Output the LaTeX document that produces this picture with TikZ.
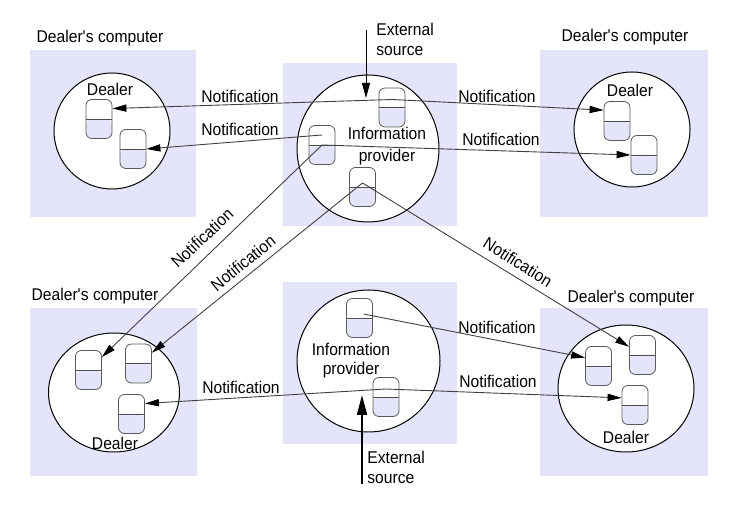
\documentclass[tikz,border=0pt]{standalone}
\usepackage{fontspec}
\setmainfont{Liberation Sans}[FakeStretch=0.92]
\usetikzlibrary{shapes.geometric,arrows.meta,positioning}
\definecolor{lav}{RGB}{228,228,250}
\tikzset{
  host/.style={rectangle,fill=lav,inner sep=0pt},
  proc/.style={ellipse,draw,fill=white,line width=0.5pt,inner sep=0pt},
  obj/.style={rectangle,rounded corners=3pt,draw=black!65,line width=0.4pt,
    minimum width=13pt,minimum height=19.5pt,inner sep=0pt,
    path picture={\fill[lav] (path picture bounding box.west) rectangle (path picture bounding box.south east);
      \draw[black!70] (path picture bounding box.west) -- (path picture bounding box.east);}},
  lbl/.style={inner sep=0pt,font=\fontsize{8.5}{10}\selectfont},
  notif/.style={draw=black!75,line width=0.45pt,-{Triangle[length=7pt,width=3.6pt,black]}}
}
\begin{document}
\begin{tikzpicture}[x=0.5pt,y=-0.5pt]
  \useasboundingbox (0,0) rectangle (744,522);
  % computers
  \begin{scope}[every node/.style={host}]
    \node[minimum width=83pt,minimum height=83.5pt] (hTL) at (113,133.5) {};
    \node[minimum width=87pt,minimum height=81.5pt] (hTM) at (370,144.5) {};
    \node[minimum width=84pt,minimum height=83.5pt] (hTR) at (624,133.5) {};
    \node[minimum width=83.5pt,minimum height=84pt] (hBL) at (113.5,392) {};
    \node[minimum width=87pt,minimum height=81pt] (hBM) at (370,363) {};
    \node[minimum width=84pt,minimum height=84pt] (hBR) at (624,392) {};
  \end{scope}
  % processes
  \begin{scope}[every node/.style={proc}]
    \node[minimum width=58pt,minimum height=58pt] (cTL) at (112,131) {};
    \node[minimum width=71pt,minimum height=73.5pt] (cTM) at (368,148.5) {};
    \node[minimum width=58pt,minimum height=57.5pt] (cTR) at (632,129.5) {};
    \node[minimum width=65.5pt,minimum height=59.5pt] (cBL) at (114,392.5) {};
    \node[minimum width=71.5pt,minimum height=71pt] (cBM) at (368.5,361) {};
    \node[minimum width=68pt,minimum height=63.5pt] (cBR) at (626,388.5) {};
  \end{scope}
  % objects
  \begin{scope}[every node/.style={obj}]
    \node (d1a) at (99,119) {};
    \node (d1b) at (133,149) {};
    \node (d2a) at (617,121) {};
    \node (d2b) at (644,155) {};
    \node (pA) at (392,107.5) {};
    \node (pB) at (322,145) {};
    \node (pC) at (362.5,187) {};
    \node (d3a) at (88.5,370) {};
    \node (d3b) at (138.5,363.5) {};
    \node (d3c) at (131.5,414) {};
    \node (d4a) at (598.5,366) {};
    \node (d4b) at (642.5,355) {};
    \node (d4c) at (635,405) {};
    \node (qA) at (359.5,318) {};
    \node (qB) at (386,397) {};
  \end{scope}
  % texts
  \node[lbl] (tTL) at (100,38) {Dealer\textquotesingle s computer};
  \node[lbl] (tTR) at (625,37) {Dealer\textquotesingle s computer};
  \node[lbl] (tBL) at (95,296) {Dealer\textquotesingle s computer};
  \node[lbl] (tBR) at (631,298) {Dealer\textquotesingle s computer};
  \node[lbl] (uTL) at (110,89) {Dealer};
  \node[lbl] (uTR) at (630,90) {Dealer};
  \node[lbl] (uBL) at (115,443) {Dealer};
  \node[lbl] (uBR) at (626,437) {Dealer};
  \node[lbl,align=center,font=\fontsize{8.5}{11}\selectfont] (iT) at (387,146) {Information\\provider};
  \node[lbl,align=center,font=\fontsize{8.5}{9.5}\selectfont] (iB) at (351,361) {Information\\provider};
  \node[lbl,align=left,anchor=west] (eT) at (376,39.5) {External\\source};
  \node[lbl,align=left,anchor=west] (eB) at (367,467) {External\\source};
  \node[lbl] (n1) at (240,96) {Notification};
  \node[lbl] (n2) at (240,129) {Notification};
  \node[lbl] (n3) at (497,96) {Notification};
  \node[lbl] (n4) at (501,139) {Notification};
  \node[lbl,rotate=43] (n5) at (202,238) {Notification};
  \node[lbl,rotate=39] (n6) at (243,263) {Notification};
  \node[lbl,rotate=-32] (n7) at (518,262) {Notification};
  \node[lbl] (n8) at (497,327) {Notification};
  \node[lbl] (n9) at (498,381) {Notification};
  \node[lbl] (n10) at (241,387) {Notification};
  % notifications
  \begin{scope}[every edge/.style={notif}]
    \path ([yshift=4pt]pA.center) edge (d1a.38) edge (d2a.141);
    \path ([yshift=5pt]pB.center) edge (d1b.east);
    \path (pB.center) edge (d2b.west) edge (d3a);
    \path ([yshift=2pt]pC.center) edge (d3b) edge (d4b);
    \path ([xshift=2pt,yshift=2pt]qA.center) edge (d4a.148);
    \path ([yshift=4pt]qB.center) edge (d4c.152) edge (d3c.38);
  \end{scope}
  % external sources
  \coordinate (srcT) at (366,30);
  \coordinate (inT) at (366,98);
  \draw[line width=0.5pt,-{Triangle[length=7.5pt,width=4pt]}] (srcT) -- (inT);
  \coordinate (srcB) at (362,484);
  \coordinate (inB) at (362,395);
  \draw[line width=1pt,-{Triangle[length=10pt,width=5pt]}] (srcB) -- (inB);
\end{tikzpicture}
\end{document}
